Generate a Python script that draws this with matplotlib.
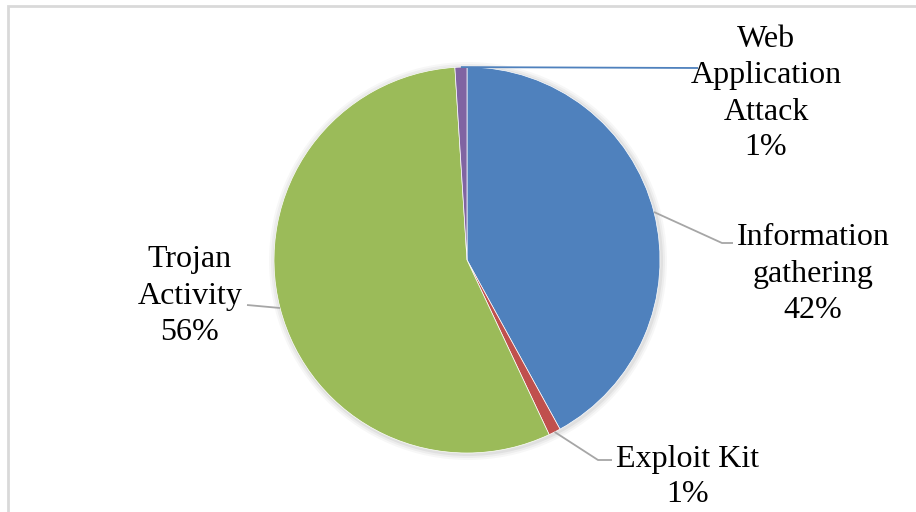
import numpy as np
import matplotlib
matplotlib.use("Agg")
import matplotlib.pyplot as plt
from matplotlib.patches import Rectangle

categories = ["Information\ngathering", "Exploit Kit", "Trojan\nActivity", "Web\nApplication\nAttack"]
values = [42, 1, 56, 1]
pct_labels = ["42%", "1%", "56%", "1%"]
colors = ["#4F81BD", "#C0504D", "#9BBB59", "#8064A2"]

W, H = 916, 512
fig = plt.figure(figsize=(W / 100, H / 100), dpi=100)
ax = fig.add_axes([0, 0, 1, 1])

cx, cy, r = 467, H - 260, 193
# soft shadow
for i, a in enumerate([0.05, 0.04, 0.03]):
    ax.add_patch(plt.Circle((cx + 1, cy - 1), r + 2 + 2 * i, color="black", alpha=a, lw=0))
wedges, _ = ax.pie(values, colors=colors, startangle=90, counterclock=False,
                   center=(cx, cy), radius=r, frame=True,
                   wedgeprops=dict(linewidth=0.5, edgecolor="white"))
ax.set_xlim(0, W)
ax.set_ylim(0, H)
ax.set_aspect("equal")
ax.axis("off")

# chart border (light gray, extends beyond right/bottom edges)
ax.add_patch(Rectangle((8, -10), W + 20, H - 6 + 10, fill=False,
                       edgecolor="#D9D9D9", linewidth=2))

font = dict(family="Liberation Serif", fontsize=23, color="black")

# label layout (image pixel coords: center x, baselines of each line)
label_x = {0: 813, 1: 688, 2: 190, 3: 766}
label_baselines = {0: [245, 282, 318], 1: [467, 502], 2: [267, 304, 340], 3: [47, 83, 120, 155]}
leader_ends = {0: [(722, 243), (733, 243)], 1: [(598, 460), (612, 460)],
               2: [(247, 305)], 3: [(698, 68)]}
leader_colors = {0: "#A6A6A6", 1: "#A6A6A6", 2: "#A6A6A6", 3: "#4F81BD"}

for i, w in enumerate(wedges):
    mid = np.deg2rad((w.theta1 + w.theta2) / 2)
    sx, sy = cx + r * np.cos(mid), cy + r * np.sin(mid)
    pts = [(sx, sy)] + [(x, H - y) for x, y in leader_ends[i]]
    xs, ys = zip(*pts)
    ax.plot(xs, ys, color=leader_colors[i], lw=1.3, solid_capstyle="butt")
    lines = categories[i].split("\n") + [pct_labels[i]]
    for line, by in zip(lines, label_baselines[i]):
        ax.text(label_x[i], H - by, line, ha="center", va="baseline", **font)

fig.savefig("out.png", dpi=100)
